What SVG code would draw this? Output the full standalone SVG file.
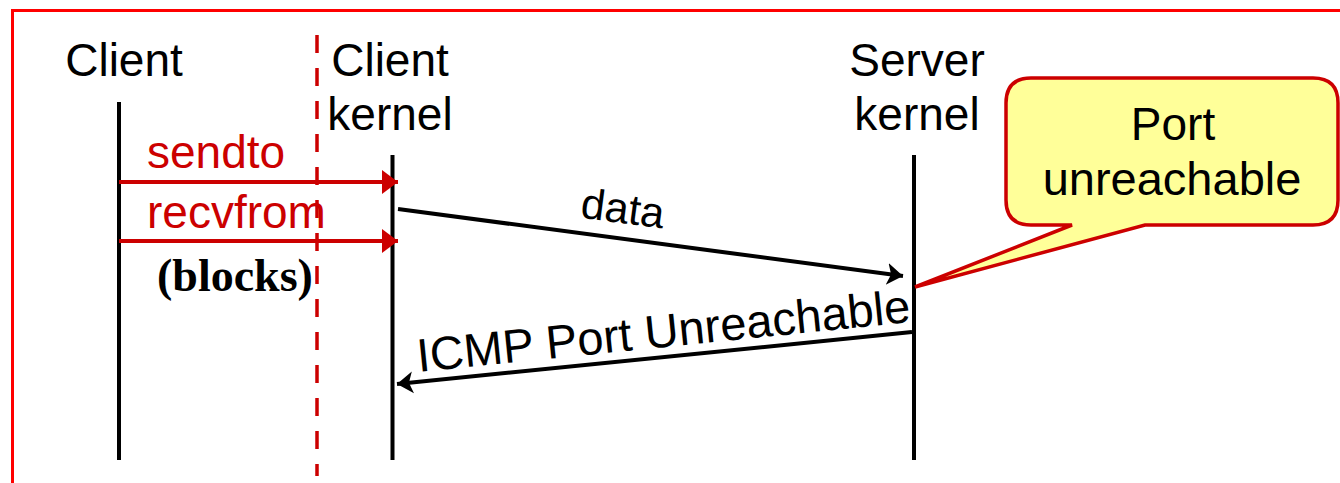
<svg xmlns="http://www.w3.org/2000/svg" width="1340" height="483" viewBox="0 0 1340 483">
<style>
.lbl{font-family:"Liberation Sans",Arial,sans-serif;font-size:46px;fill:#000}
.red{fill:#cc0000}
.life{stroke:#000;stroke-width:4;fill:none}
.msg{stroke:#cc0000;stroke-width:4;fill:none}
.blk{stroke:#000;stroke-width:4;fill:none}
</style>
<defs>
<marker id="ar" markerUnits="userSpaceOnUse" markerWidth="20" markerHeight="26" viewBox="0 0 20 26" refX="16" refY="13" orient="auto">
<path d="M0,1 L16,13 L0,25 Z" fill="#cc0000"/>
</marker>
<marker id="ab" markerUnits="userSpaceOnUse" markerWidth="20" markerHeight="26" viewBox="0 0 20 26" refX="16" refY="13" orient="auto">
<path d="M0,2 L16,13 L0,24 L4,13 Z" fill="#000"/>
</marker>
</defs>
<rect x="0" y="0" width="1340" height="483" fill="#fff"/>
<rect x="12.5" y="10.5" width="1400" height="560" fill="none" stroke="#ff0000" stroke-width="3"/>
<line x1="317" y1="35" x2="317" y2="476" stroke="#cc0000" stroke-width="3.5" stroke-dasharray="18 15"/>
<g id="client">
<text class="lbl" x="124" y="76" text-anchor="middle">Client</text>
<line class="life" x1="119" y1="102" x2="119" y2="460"/>
</g>
<g id="client-kernel">
<text class="lbl" x="390" y="76" text-anchor="middle">Client</text>
<text class="lbl" x="390" y="130" text-anchor="middle">kernel</text>
<line class="life" x1="392.5" y1="155" x2="392.5" y2="460"/>
</g>
<g id="server-kernel">
<text class="lbl" x="917" y="76" text-anchor="middle">Server</text>
<text class="lbl" x="917" y="130" text-anchor="middle">kernel</text>
<line class="life" x1="914" y1="155" x2="914" y2="460"/>
</g>
<g id="callout">
<path d="M1031,78 H1313 Q1338,78 1338,103 V200 Q1338,225 1313,225 H1145 L915,287 L1072,225 H1031 Q1006,225 1006,200 V103 Q1006,78 1031,78 Z" fill="#ffff99" stroke="#cc0000" stroke-width="3.5" stroke-linejoin="miter"/>
<text class="lbl" x="1173" y="140" text-anchor="middle">Port</text>
<text class="lbl" x="1172" y="195" text-anchor="middle" style="font-size:47px">unreachable</text>
</g>
<g id="connectors">
<line class="msg" x1="119" y1="182" x2="398" y2="182" marker-end="url(#ar)"/>
<line class="msg" x1="119" y1="241" x2="398" y2="241" marker-end="url(#ar)"/>
<line class="blk" x1="398" y1="209" x2="903" y2="276" marker-end="url(#ab)"/>
<line class="blk" x1="912" y1="332" x2="397" y2="384" marker-end="url(#ab)"/>
<text class="lbl red" x="147" y="168">sendto</text>
<text class="lbl red" x="147" y="228">recvfrom</text>
<text x="157" y="291" style="font-family:'Liberation Serif','Times New Roman',serif;font-weight:bold;font-size:46px;fill:#000">(blocks)</text>
<text class="lbl" x="0" y="0" text-anchor="middle" transform="translate(621,223) rotate(7.5)" style="font-size:43px">data</text>
<text class="lbl" x="0" y="0" text-anchor="middle" transform="translate(665,347) rotate(-5.8)" style="font-size:47px">ICMP Port Unreachable</text>
</g>
</svg>
